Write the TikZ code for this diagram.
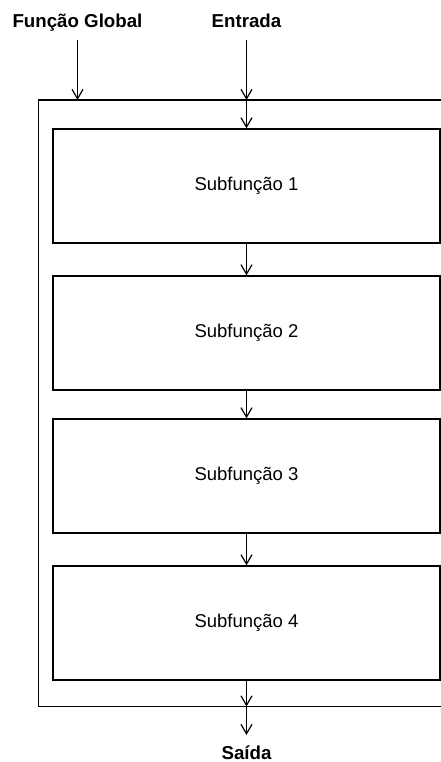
\documentclass[tikz,border=0pt]{standalone}
\usepackage{fontspec}
\setmainfont{Liberation Sans}
\usetikzlibrary{arrows.meta}
\begin{document}
\begin{tikzpicture}[x=1pt,y=-1pt,
  line width=1.3pt,
  flow/.style={-{Straight Barb[length=9.5pt,width=11pt,line width=1.2pt]}},
  subbox/.style={draw, line width=1.3pt, minimum width=387pt, minimum height=114pt, inner sep=0pt,
    font=\fontsize{18.5}{22}\selectfont},
  label/.style={font=\bfseries\fontsize{18.7}{22}\selectfont, inner sep=0pt, anchor=base}]
  \useasboundingbox (0,0) rectangle (441,762);
  % outer frame (right side runs past the page edge)
  \draw (446,100) -- (38.5,100) -- (38.5,706.5) -- (446,706.5);
  % subfunction blocks
  \node[subbox] (s1) at (246.5,186) {Subfunção 1};
  \node[subbox] (s2) at (246.5,333) {Subfunção 2};
  \node[subbox] (s3) at (246.5,476) {Subfunção 3};
  \node[subbox] (s4) at (246.5,623) {Subfunção 4};
  % labels
  \node[label] (fg) at (77.5,28) {Função Global};
  \node[label] (in) at (246.5,28) {Entrada};
  \node[label] (out) at (246.5,759) {Saída};
  % frame anchor points
  \coordinate (fgtop) at (77.5,40);
  \coordinate (fgend) at (77.5,100);
  \coordinate (intop) at (246.5,40);
  \coordinate (inmid) at (246.5,100);
  \coordinate (outmid) at (246.5,706.5);
  \coordinate (outend) at (246.5,735);
  % connectors
  \draw[flow] (fgtop) -- (fgend);
  \draw[flow] (intop) -- (inmid);
  \draw[flow] (inmid) -- (s1.north);
  \draw[flow] (s1.south) -- (s2.north);
  \draw[flow] (s2.south) -- (s3.north);
  \draw[flow] (s3.south) -- (s4.north);
  \draw[flow] (s4.south) -- (outmid);
  \draw[flow] (outmid) -- (outend);
\end{tikzpicture}
\end{document}
